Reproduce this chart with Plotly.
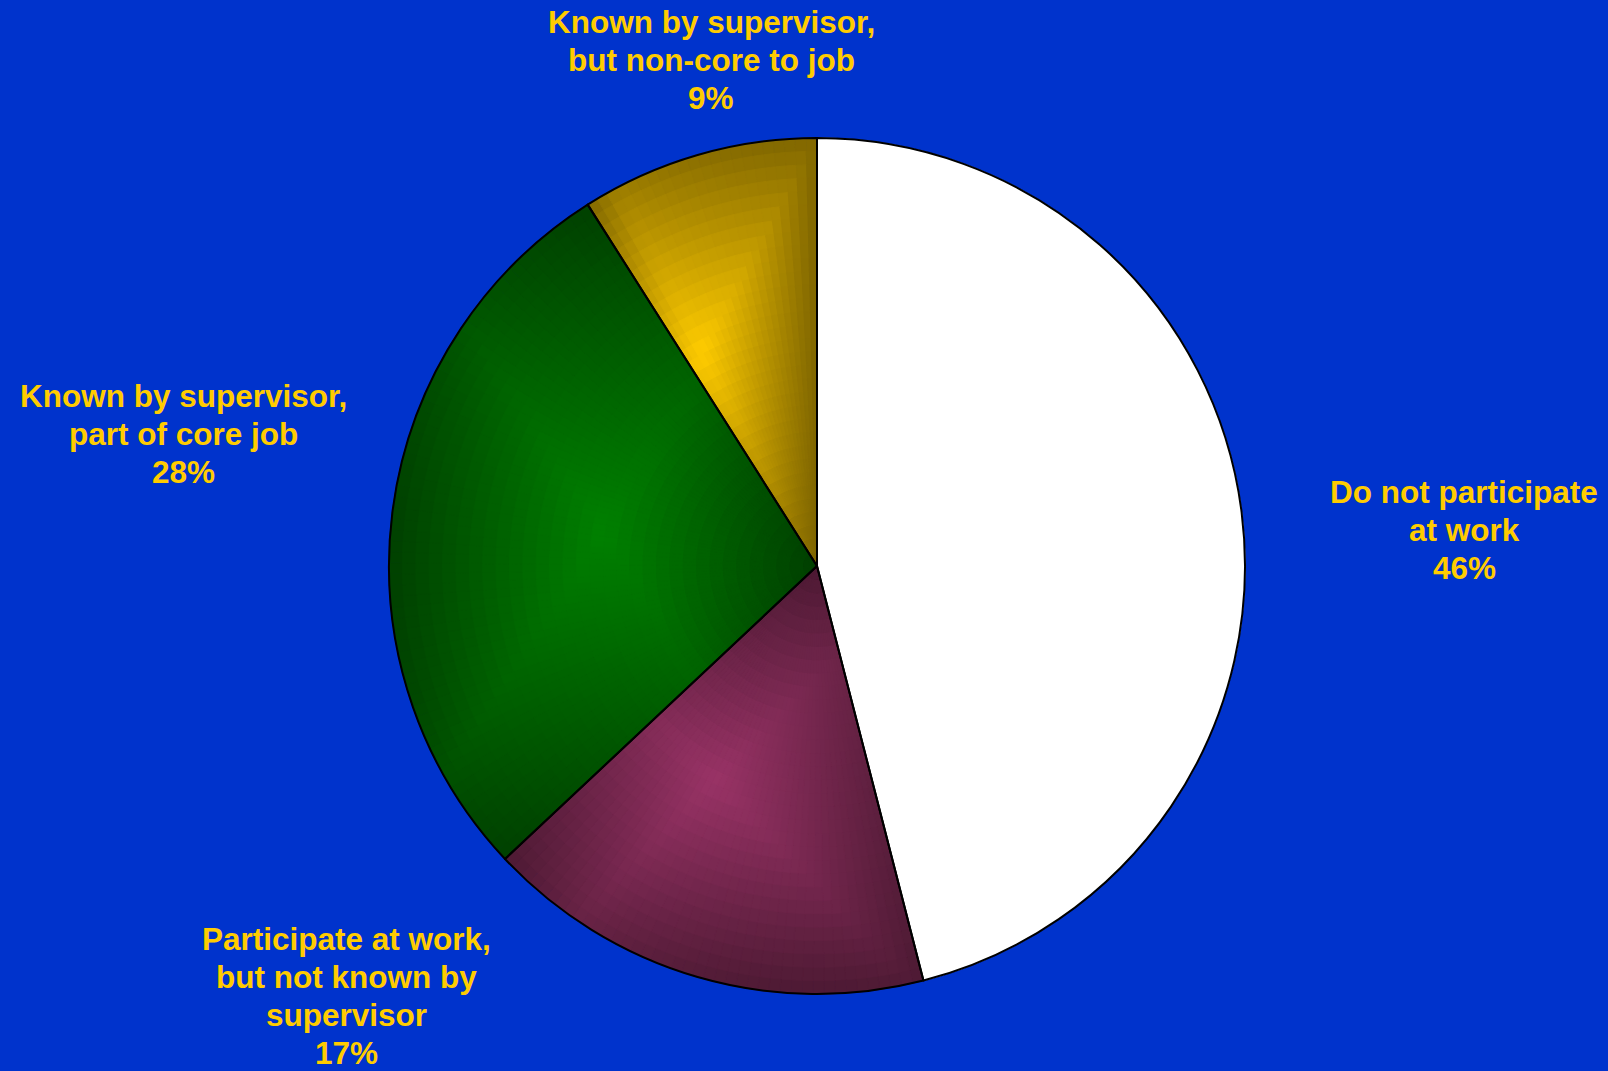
import math
import plotly.graph_objects as go

# --- data -------------------------------------------------------------
categories = [
    "Do not participate at work",
    "Participate at work, but not known by supervisor",
    "Known by supervisor, part of core job",
    "Known by supervisor, but non-core to job",
]
label_lines = [
    ["Do not participate", "at work"],
    ["Participate at work,", "but not known by", "supervisor"],
    ["Known by supervisor,", "part of core job"],
    ["Known by supervisor,", "but non-core to job"],
]
shares = [46, 17, 28, 9]

# --- style ------------------------------------------------------------
W, H = 1608, 1071
BG = "#0033CC"
TEXT = "#FFCC00"
slice_colors = [(255, 255, 255), (153, 51, 102), (0, 128, 0), (255, 204, 0)]
shaded = [False, True, True, True]      # white wedge stays flat
EDGE_DARKEN = 0.5                       # colour at the rim of each gradient

PIE_CX, PIE_CY, PIE_R = 817, 566, 428   # pixel centre / radius of the pie
label_pos = [(1464, 492), (346, 939), (183, 396), (711, 22)]
LINE_STEP = 38
FONT = dict(family="Liberation Sans, Arial, sans-serif", size=31.5, color=TEXT, weight="bold")

RINGS = 32
DEG_PER_SUB = 1.5


def domain_for(radius_px):
    return dict(
        x=[(PIE_CX - radius_px) / W, (PIE_CX + radius_px) / W],
        y=[1 - (PIE_CY + radius_px) / H, 1 - (PIE_CY - radius_px) / H],
    )


# wedge angles, clockwise from 12 o'clock
total = float(sum(shares))
starts, ends = [], []
acc = 0.0
for v in shares:
    starts.append(acc / total * 2 * math.pi)
    acc += v
    ends.append(acc / total * 2 * math.pi)


def wedge_box(a0, a1):
    """Bounding box of a unit wedge (x right, y down): centre and half sizes."""
    angs = [a0, a1] + [k * math.pi / 2 for k in range(5) if a0 < k * math.pi / 2 < a1]
    xs = [0.0] + [math.sin(a) for a in angs]
    ys = [0.0] + [-math.cos(a) for a in angs]
    return ((min(xs) + max(xs)) / 2, (min(ys) + max(ys)) / 2,
            (max(xs) - min(xs)) / 2, (max(ys) - min(ys)) / 2)


boxes = [wedge_box(a0, a1) for a0, a1 in zip(starts, ends)]
n_sub = [
    max(4, round(math.degrees(a1 - a0) / DEG_PER_SUB)) if sh else 1
    for a0, a1, sh in zip(starts, ends, shaded)
]


def shade(rgb, t):
    f = 1 - EDGE_DARKEN * min(1.0, t)
    return "rgb({},{},{})".format(*(round(c * f) for c in rgb))


fig = go.Figure()

# Rectangular "from centre" gradient fill: stacked pies of shrinking radius,
# each wedge split into thin sub-wedges coloured by their position in the
# wedge's bounding box.
for i in range(RINGS):
    f_out = 1 - i / RINGS
    f_mid = 1 - (i + 0.5) / RINGS
    vals, labs, cols = [], [], []
    for s, v in enumerate(shares):
        n = n_sub[s]
        a0, a1 = starts[s], ends[s]
        cx, cy, hw, hh = boxes[s]
        for j in range(n):
            a = a0 + (j + 0.5) * (a1 - a0) / n
            if shaded[s]:
                x, y = f_mid * math.sin(a), -f_mid * math.cos(a)
                t = max(abs(x - cx) / hw, abs(y - cy) / hh)
                col = shade(slice_colors[s], t)
            else:
                col = "rgb({},{},{})".format(*slice_colors[s])
            vals.append(v / n)
            labs.append(f"{s}-{j}")
            cols.append(col)
    fig.add_trace(go.Pie(
        values=vals, labels=labs, sort=False, direction="clockwise", rotation=0,
        marker=dict(colors=cols, line=dict(color=cols, width=1)),
        textinfo="none", hoverinfo="skip", showlegend=False,
        domain=domain_for(PIE_R * f_out),
    ))

# Outline pie carrying the categories
fig.add_trace(go.Pie(
    values=shares, labels=categories, sort=False, direction="clockwise", rotation=0,
    marker=dict(colors=["rgba(0,0,0,0)"] * len(shares), line=dict(color="black", width=2)),
    textinfo="none", hovertemplate="%{label}: %{percent}<extra></extra>",
    showlegend=False, domain=domain_for(PIE_R),
))

# Outside labels
annotations = []
for lines, v, (lx, ly) in zip(label_lines, shares, label_pos):
    for k, line in enumerate(lines + [f"{v}%"]):
        annotations.append(dict(
            text=line, x=lx / W, y=1 - (ly + k * LINE_STEP) / H,
            xref="paper", yref="paper", xanchor="center", yanchor="middle",
            showarrow=False, font=FONT,
        ))

fig.update_layout(
    width=W, height=H,
    margin=dict(l=0, r=0, t=0, b=0),
    paper_bgcolor=BG, plot_bgcolor=BG,
    annotations=annotations,
)

fig.write_html("out.html")
